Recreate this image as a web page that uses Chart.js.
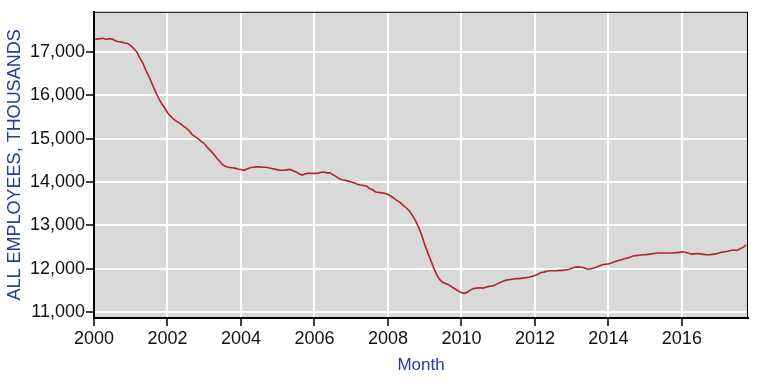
<!DOCTYPE html>
<html>
<head>
<meta charset="utf-8">
<script src="https://cdn.jsdelivr.net/npm/chart.js@4/dist/chart.umd.min.js"></script>
<style>
  body { margin: 0; background: #fff; }
  #wrap { width: 766px; height: 385px; }
</style>
</head>
<body>
<div id="wrap"><canvas id="empChart" width="766" height="385"></canvas></div>
<script>
// monthly series, starting Jan 2000
const startYear = 2000;
const employees = [
  17290, 17300, 17310, 17320, 17290, 17310, 17300, 17260, 17240, 17230, 17210, 17200, // 2000
  17150, 17080, 17000, 16860, 16740, 16570, 16430, 16260, 16100, 15950, 15820, 15720, // 2001
  15600, 15520, 15450, 15400, 15360, 15300, 15250, 15190, 15100, 15050, 15000, 14940, // 2002
  14890, 14800, 14730, 14650, 14560, 14480, 14400, 14360, 14340, 14330, 14320, 14300, // 2003
  14290, 14270, 14300, 14330, 14340, 14350, 14350, 14340, 14340, 14330, 14310, 14300, // 2004
  14280, 14270, 14270, 14280, 14290, 14260, 14230, 14190, 14160, 14190, 14200, 14200, // 2005
  14200, 14200, 14220, 14230, 14210, 14210, 14170, 14130, 14080, 14050, 14040, 14020, // 2006
  14000, 13980, 13950, 13930, 13920, 13910, 13850, 13820, 13770, 13760, 13750, 13740, // 2007
  13710, 13670, 13620, 13570, 13530, 13460, 13400, 13330, 13230, 13110, 12960, 12780, // 2008
  12560, 12370, 12190, 12010, 11850, 11740, 11680, 11650, 11620, 11570, 11530, 11480, // 2009
  11450, 11430, 11460, 11510, 11540, 11550, 11560, 11550, 11570, 11590, 11600, 11620, // 2010
  11660, 11690, 11720, 11740, 11750, 11760, 11770, 11770, 11780, 11790, 11800, 11820, // 2011
  11840, 11870, 11910, 11920, 11940, 11950, 11950, 11950, 11960, 11960, 11970, 11980, // 2012
  12010, 12030, 12040, 12030, 12020, 11990, 11990, 12010, 12030, 12060, 12090, 12100, // 2013
  12110, 12130, 12160, 12180, 12200, 12220, 12240, 12260, 12290, 12300, 12310, 12320, // 2014
  12320, 12330, 12340, 12350, 12360, 12360, 12360, 12360, 12360, 12360, 12370, 12370, // 2015
  12390, 12380, 12360, 12340, 12340, 12350, 12340, 12330, 12320, 12320, 12330, 12340, // 2016
  12360, 12380, 12390, 12400, 12420, 12430, 12420, 12460, 12490, 12550              // 2017
];
const xTicks = [2000, 2002, 2004, 2006, 2008, 2010, 2012, 2014, 2016];
const yTicks = [11000, 12000, 13000, 14000, 15000, 16000, 17000];

const points = employees.map((v, i) => ({ x: startYear + i / 12, y: v }));

// grey plot background and frame
const plotFrame = {
  id: 'plotFrame',
  beforeDraw(chart) {
    const { ctx, chartArea: a } = chart;
    ctx.save();
    ctx.fillStyle = '#d9d9d9';
    ctx.fillRect(a.left, a.top, a.right - a.left, a.bottom - a.top);
    ctx.restore();
  },
  afterDatasetsDraw(chart) {
    const { ctx, chartArea: a } = chart;
    ctx.save();
    ctx.strokeStyle = '#000';
    ctx.lineWidth = 1;
    ctx.strokeRect(a.left + 0.5, a.top + 0.5, a.right - a.left - 1, a.bottom - a.top - 1);
    ctx.restore();
  }
};

const tickFont = { family: 'Liberation Sans, Arial, sans-serif', size: 18 };

new Chart(document.getElementById('empChart').getContext('2d'), {
  type: 'line',
  data: {
    datasets: [{
      data: points,
      borderColor: '#b0242b',
      borderWidth: 1.6,
      pointRadius: 0,
      tension: 0,
      fill: false
    }]
  },
  options: {
    responsive: false,
    animation: false,
    layout: { padding: { top: 7, right: 18, left: 0, bottom: 0 } },
    plugins: { legend: { display: false }, tooltip: { enabled: false } },
    scales: {
      x: {
        type: 'linear',
        min: 2000,
        max: 2017.8,
        afterBuildTicks: (scale) => { scale.ticks = xTicks.map(v => ({ value: v })); },
        afterFit: (scale) => { scale.height = 67; },
        ticks: {
          color: '#111',
          font: tickFont,
          padding: 2,
          maxRotation: 0,
          callback: (v) => String(v)
        },
        grid: { color: '#fff', lineWidth: 2, tickColor: '#000', tickLength: 8, tickWidth: 1.5 },
        border: { display: true, color: '#000', width: 2 },
        title: {
          display: true,
          text: 'Month',
          color: '#1f3f98',
          font: { family: 'Liberation Sans, Arial, sans-serif', size: 17 },
          padding: { top: 0, bottom: 9 }
        }
      },
      y: {
        min: 10860,
        max: 17930,
        afterBuildTicks: (scale) => { scale.ticks = yTicks.map(v => ({ value: v })); },
        afterFit: (scale) => { scale.width = 94; },
        ticks: {
          color: '#111',
          font: tickFont,
          padding: 1,
          callback: (v) => v.toLocaleString('en-US')
        },
        grid: { color: '#fff', lineWidth: 2, tickColor: '#000', tickLength: 8, tickWidth: 1.5 },
        border: { display: true, color: '#000', width: 2 },
        title: {
          display: true,
          text: 'ALL EMPLOYEES, THOUSANDS',
          color: '#1f3f98',
          font: { family: 'Liberation Sans, Arial, sans-serif', size: 18 },
          padding: { top: 4, bottom: 0 }
        }
      }
    }
  },
  plugins: [plotFrame]
});
</script>
</body>
</html>
